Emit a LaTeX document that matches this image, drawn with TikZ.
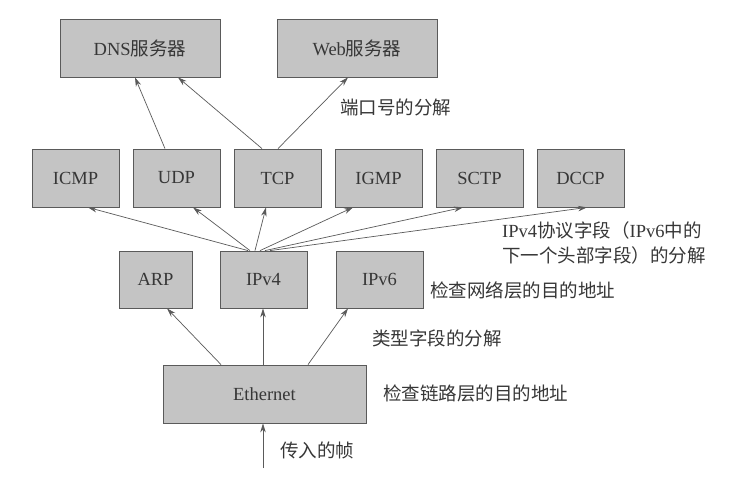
\documentclass[tikz,border=0pt]{standalone}
\usepackage{fontspec}
\setmainfont{Liberation Serif}
\newfontfamily\cjk{Noto Sans CJK SC}
\usetikzlibrary{arrows.meta,calc}
\definecolor{boxfill}{RGB}{196,196,196}
\definecolor{edge}{RGB}{90,90,90}
\definecolor{ink}{RGB}{55,55,55}
\begin{document}
\begin{tikzpicture}[x=1pt,y=-1pt,
  box/.style={draw=edge,line width=0.8pt,fill=boxfill,text=ink,inner sep=0pt,
    font=\fontsize{18.5}{22}\selectfont},
  arr/.style={draw=edge,line width=0.7pt,-{Stealth[length=9pt,width=5.5pt]}},
  lbl/.style={text=ink,inner sep=0pt,anchor=west,font=\fontsize{18.5}{22}\selectfont\cjk}]
\useasboundingbox[fill=white] (0,0) rectangle (742,479);
% top row
\node[box,minimum width=160pt,minimum height=58pt] (dns) at (140,48) {DNS{\cjk 服务器}};
\node[box,minimum width=160pt,minimum height=58pt] (web) at (357,48) {Web{\cjk 服务器}};
% transport row
\foreach \n/\t/\x in {icmp/ICMP/75.5,udp/UDP/176.5,tcp/TCP/277.5,igmp/IGMP/378.5,sctp/SCTP/479.5,dccp/DCCP/580.5}
  \node[box,minimum width=87pt,minimum height=58pt] (\n) at (\x,178) {\t};
% network row
\node[box,minimum width=73pt,minimum height=57pt] (arp) at (155.5,279.5) {ARP};
\node[box,minimum width=87pt,minimum height=57pt] (ipv4) at (263.5,279.5) {IPv4};
\node[box,minimum width=87pt,minimum height=57pt] (ipv6) at (379.5,279.5) {IPv6};
% link
\node[box,minimum width=203pt,minimum height=58pt] (eth) at (264.5,394) {Ethernet};
\coordinate (in) at (263,468);
% arrows
\draw[arr] ($(udp.north)+(-11.5,0)$) -- ($(dns.south)+(-5,0)$);
\draw[arr] ($(tcp.north)+(-15.5,0)$) -- ($(dns.south)+(38,0)$);
\draw[arr] ($(tcp.north)+(0.5,0)$) -- ($(web.south)+(-9,0)$);
\draw[arr] ($(ipv4.north)+(-15.5,0)$) -- ($(icmp.south)+(12.5,0)$);
\draw[arr] ($(ipv4.north)+(-13.5,0)$) -- ($(udp.south)+(16.5,0)$);
\draw[arr] ($(ipv4.north)+(-8.5,0)$) -- ($(tcp.south)+(-11.5,0)$);
\draw[arr] ($(ipv4.north)+(-3.5,0)$) -- ($(igmp.south)+(-25.5,0)$);
\draw[arr] ($(ipv4.north)+(1.5,0)$) -- ($(sctp.south)+(-16.5,0)$);
\draw[arr] ($(ipv4.north)+(6.5,0)$) -- ($(dccp.south)+(6.5,0)$);
\draw[arr] ($(eth.north)+(-43.5,0)$) -- ($(arp.south)+(11.5,0)$);
\draw[arr] ($(eth.north)+(-1.5,0)$) -- ($(ipv4.south)+(-0.5,0)$);
\draw[arr] ($(eth.north)+(43.5,0)$) -- ($(ipv6.south)+(-31.5,0)$);
\draw[arr] (in) -- ($(eth.south)+(-1.5,0)$);
% labels
\node[lbl] (l1) at (340,107) {端口号的分解};
\node[lbl,align=left,anchor=north west,font=\fontsize{18.5}{25}\selectfont] (l2) at (502,221)
  {{\rmfamily IPv4}{\cjk 协议字段（}{\rmfamily IPv6}{\cjk 中的}\\{\cjk 下一个头部字段）的分解}};
\node[lbl] (l3) at (430,290) {检查网络层的目的地址};
\node[lbl] (l4) at (372,338) {类型字段的分解};
\node[lbl] (l5) at (383,393) {检查链路层的目的地址};
\node[lbl] (l6) at (280,450) {传入的帧};
\end{tikzpicture}
\end{document}
